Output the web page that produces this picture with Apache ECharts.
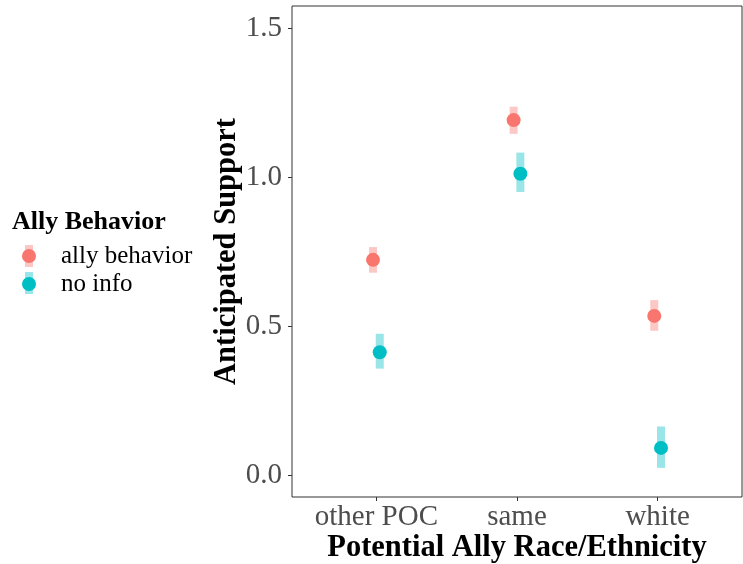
<!DOCTYPE html>
<html>
<head>
<meta charset="utf-8">
<script src="https://cdn.jsdelivr.net/npm/echarts@6/dist/echarts.min.js"></script>
<style>html,body{margin:0;padding:0;background:#fff}#chart{width:743px;height:564px}</style>
</head>
<body>
<div id="chart"></div>
<script>
const categories = ['other POC', 'same', 'white'];
const groupNames = ['ally behavior', 'no info'];
const allyMean = [0.722, 1.191, 0.534];
const allyLow = [0.679, 1.145, 0.484];
const allyHigh = [0.765, 1.236, 0.587];
const noInfoMean = [0.412, 1.011, 0.091];
const noInfoLow = [0.357, 0.950, 0.024];
const noInfoHigh = [0.474, 1.082, 0.163];
const yTicks = [0, 0.5, 1.0, 1.5];
const xTicks = [1, 2, 3];

const colors = ['#F8766D', '#00BFC4'];
const dodge = [-0.024, 0.024];
const FONT = "'Liberation Serif', 'Times New Roman', serif";

function pts(mean, k) { return mean.map((v, i) => [i + 1 + dodge[k], v]); }
function bars(lo, hi, k) { return lo.map((v, i) => [i + 1 + dodge[k], v, hi[i]]); }

function errRender(color) {
  return function (params, api) {
    const t = api.coord([api.value(0), api.value(2)]);
    const b = api.coord([api.value(0), api.value(1)]);
    return { type: 'rect', shape: { x: t[0] - 4, y: t[1], width: 8, height: b[1] - t[1] },
      style: { fill: color, opacity: 0.4 } };
  };
}

const chart = echarts.init(document.getElementById('chart'));
chart.setOption({
  animation: false,
  backgroundColor: '#fff',
  title: {
    text: 'Ally Behavior', left: 7, top: 204,
    textStyle: { fontFamily: FONT, fontWeight: 'bold', fontSize: 26, lineHeight: 26, color: '#000' }
  },
  legend: {
    orient: 'vertical', left: 22, top: 242, itemGap: 0, itemWidth: 14, itemHeight: 14, padding: 0,
    data: groupNames.map(n => ({ name: n, icon: 'circle' })),
    textStyle: { fontFamily: FONT, fontSize: 25, lineHeight: 28, color: '#000', padding: [0, 0, 0, 20] },
    selectedMode: false
  },
  graphic: [
    { type: 'rect', z: 0, shape: { x: 25, y: 245, width: 8, height: 22 }, style: { fill: colors[0], opacity: 0.4 } },
    { type: 'rect', z: 0, shape: { x: 25, y: 272, width: 8, height: 22 }, style: { fill: colors[1], opacity: 0.4 } }
  ],
  grid: { left: 292, right: 1, top: 6, bottom: 67, show: true, borderColor: '#333', borderWidth: 1,
    backgroundColor: '#fff', containLabel: false, outerBoundsMode: 'none' },
  xAxis: {
    type: 'value', min: 0.4, max: 3.6,
    name: 'Potential Ally Race/Ethnicity', nameLocation: 'middle', nameGap: 36, nameMoveOverlap: false,
    nameTextStyle: { fontFamily: FONT, fontWeight: 'bold', fontSize: 30.5, lineHeight: 30, color: '#000' },
    axisLine: { show: false, onZero: false },
    splitLine: { show: false },
    axisTick: { show: true, length: 4, lineStyle: { color: '#333' }, customValues: xTicks },
    axisLabel: { customValues: xTicks, margin: 5, fontFamily: FONT, fontSize: 29, lineHeight: 30, color: '#4D4D4D',
      formatter: v => categories[Math.round(v) - 1] }
  },
  yAxis: {
    type: 'value', min: -0.0738, max: 1.574,
    name: 'Anticipated Support', nameLocation: 'middle', nameGap: 50, nameMoveOverlap: false,
    nameTextStyle: { fontFamily: FONT, fontWeight: 'bold', fontSize: 30.5, lineHeight: 30, color: '#000' },
    axisLine: { show: false, onZero: false },
    splitLine: { show: false },
    axisTick: { show: true, length: 4, lineStyle: { color: '#333' }, customValues: yTicks },
    axisLabel: { customValues: yTicks, margin: 10, fontFamily: FONT, fontSize: 29, color: '#4D4D4D',
      formatter: v => v.toFixed(1) }
  },
  series: [
    { name: 'ally err', type: 'custom', z: 2, renderItem: errRender(colors[0]), data: bars(allyLow, allyHigh, 0), encode: { x: 0, y: [1, 2] } },
    { name: 'noinfo err', type: 'custom', z: 2, renderItem: errRender(colors[1]), data: bars(noInfoLow, noInfoHigh, 1), encode: { x: 0, y: [1, 2] } },
    { name: groupNames[0], type: 'scatter', z: 3, symbolSize: 14, itemStyle: { color: colors[0], opacity: 1 }, data: pts(allyMean, 0) },
    { name: groupNames[1], type: 'scatter', z: 3, symbolSize: 14, itemStyle: { color: colors[1], opacity: 1 }, data: pts(noInfoMean, 1) }
  ]
});
</script>
</body>
</html>
